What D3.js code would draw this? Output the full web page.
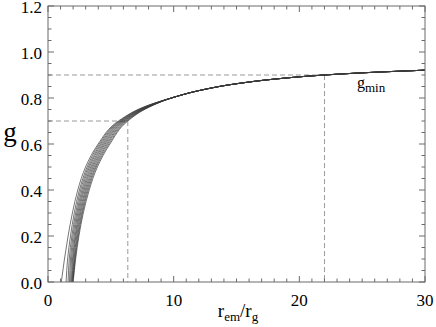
<!DOCTYPE html>
<html>
<head>
<meta charset="utf-8">
<script src="https://cdn.jsdelivr.net/npm/d3@7"></script>
<style>
	body { margin: 0; background: #fff; }
	svg { display: block; font-family: "Liberation Serif", "DejaVu Serif", serif; }
</style>
</head>
<body>
<svg width="436" height="327"></svg>
<script>
// -------------------------
// Data
// -------------------------
// g levels where each curve's r_em/r_g was read (lower, spread part)
const gLevels = [0, 0.1, 0.2, 0.3, 0.4, 0.5, 0.6, 0.7];

// one row per curve, r_em/r_g at each g level (rightmost curve first)
const curveX = [
	[2.0, 2.2, 2.46, 2.81, 3.28, 3.93, 4.93, 6.35],
	[1.99, 2.16, 2.41, 2.74, 3.2, 3.84, 4.84, 6.28],
	[1.98, 2.12, 2.35, 2.68, 3.12, 3.76, 4.74, 6.2],
	[1.95, 2.07, 2.29, 2.6, 3.04, 3.67, 4.65, 6.13],
	[1.92, 2.01, 2.22, 2.53, 2.96, 3.58, 4.55, 6.05],
	[1.87, 1.95, 2.16, 2.45, 2.87, 3.49, 4.46, 5.98],
	[1.8, 1.87, 2.08, 2.37, 2.79, 3.4, 4.37, 5.9],
	[1.71, 1.79, 1.99, 2.29, 2.7, 3.3, 4.27, 5.83],
	[1.6, 1.69, 1.9, 2.2, 2.6, 3.21, 4.18, 5.75],
	[1.44, 1.56, 1.79, 2.09, 2.5, 3.11, 4.08, 5.68],
	[1.06, 1.31, 1.6, 1.94, 2.37, 2.99, 3.99, 5.6]
];

// g of each curve at r_em/r_g = 8, where the bundle is nearly merged
const gAt8 = [0.759, 0.76, 0.761, 0.762, 0.763, 0.764, 0.765, 0.766, 0.767, 0.768, 0.769];

// common upper part, where all curves merge
const tailX = [10, 12, 15, 18, 22, 26, 30];
const tailG = [0.803, 0.832, 0.862, 0.882, 0.9, 0.912, 0.921];

// dashed guide lines
const guideX = [6.35, 22];
const guideG = [0.7, 0.9];

// axes
const xTicks = [0, 10, 20, 30];
const yTicks = [0, 0.2, 0.4, 0.6, 0.8, 1.0, 1.2];

// -------------------------
// Draw
// -------------------------
const svg = d3.select("svg");
const W = 436, H = 327;
const margin = { top: 6, right: 11, bottom: 45, left: 48 };
const width = W - margin.left - margin.right;
const height = H - margin.top - margin.bottom;

const x = d3.scaleLinear().domain([0, 30]).range([0, width]);
const y = d3.scaleLinear().domain([0, 1.2]).range([height, 0]);

const g = svg.append("g").attr("transform", `translate(${margin.left},${margin.top})`);

g.append("defs")
	.append("clipPath")
	.attr("id", "plot-clip")
	.append("rect")
	.attr("width", width)
	.attr("height", height);

// --- Dashed guides ---
const guides = g.append("g").attr("stroke", "#9a9a9a").attr("stroke-width", 1).attr("stroke-dasharray", "5,3");
guideX.forEach((gx, i) => {
	guides.append("line")
		.attr("x1", x(0)).attr("x2", x(gx))
		.attr("y1", y(guideG[i])).attr("y2", y(guideG[i]));
	guides.append("line")
		.attr("x1", x(gx)).attr("x2", x(gx))
		.attr("y1", y(guideG[i])).attr("y2", y(0));
});

// --- Curves ---
const line = d3.line()
	.x((d) => x(d[0]))
	.y((d) => y(d[1]))
	.curve(d3.curveMonotoneY);

const curves = curveX.map((row, k) =>
	row.map((v, i) => [v, gLevels[i]])
		.concat([[8, gAt8[k]]])
		.concat(tailX.map((v, i) => [v, tailG[i]]))
);

g.append("g")
	.attr("clip-path", "url(#plot-clip)")
	.selectAll("path")
	.data(curves)
	.enter()
	.append("path")
	.attr("d", line)
	.attr("fill", "none")
	.attr("stroke", "#3a3a3a")
	.attr("stroke-width", 0.7);

// --- Frame & ticks (inward, mirrored) ---
const axisColor = "#6a6a6a";
g.append("rect")
	.attr("width", width)
	.attr("height", height)
	.attr("fill", "none")
	.attr("stroke", axisColor)
	.attr("stroke-width", 1);

const ticks = g.append("g").attr("stroke", axisColor).attr("stroke-width", 1);
d3.range(0, 31, 1).forEach((v) => {
	const len = v % 10 === 0 ? 6 : 3.5;
	ticks.append("line").attr("x1", x(v)).attr("x2", x(v)).attr("y1", height).attr("y2", height - len);
	ticks.append("line").attr("x1", x(v)).attr("x2", x(v)).attr("y1", 0).attr("y2", len);
});
d3.range(0, 25, 1).forEach((k) => {
	const v = k * 0.05;
	const len = k % 4 === 0 ? 6 : 3.5;
	ticks.append("line").attr("y1", y(v)).attr("y2", y(v)).attr("x1", 0).attr("x2", len);
	ticks.append("line").attr("y1", y(v)).attr("y2", y(v)).attr("x1", width).attr("x2", width - len);
});

// --- Tick labels ---
g.append("g")
	.selectAll("text")
	.data(xTicks)
	.enter()
	.append("text")
	.attr("x", (d) => x(d))
	.attr("y", height + 24)
	.attr("text-anchor", "middle")
	.attr("font-size", 17)
	.text((d) => d);

g.append("g")
	.selectAll("text")
	.data(yTicks)
	.enter()
	.append("text")
	.attr("x", -6)
	.attr("y", (d) => y(d) + 6.5)
	.attr("text-anchor", "end")
	.attr("font-size", 17)
	.text((d) => d3.format(".1f")(d));

// --- Axis titles ---
svg.append("text")
	.attr("x", 10)
	.attr("y", 141)
	.attr("text-anchor", "middle")
	.attr("font-size", 27)
	.text("g");

const xTitle = svg.append("text")
	.attr("x", 238)
	.attr("y", 317)
	.attr("text-anchor", "middle")
	.attr("font-size", 19);
xTitle.append("tspan").text("r");
xTitle.append("tspan").attr("font-size", 13).attr("dy", 4).text("em");
xTitle.append("tspan").attr("dy", -4).text("/r");
xTitle.append("tspan").attr("font-size", 13).attr("dy", 4).text("g");

// --- Curve label ---
const gmin = svg.append("text")
	.attr("x", 357)
	.attr("y", 88)
	.attr("font-size", 16);
gmin.append("tspan").text("g");
gmin.append("tspan").attr("font-size", 13).attr("dy", 4).text("min");
</script>
</body>
</html>
